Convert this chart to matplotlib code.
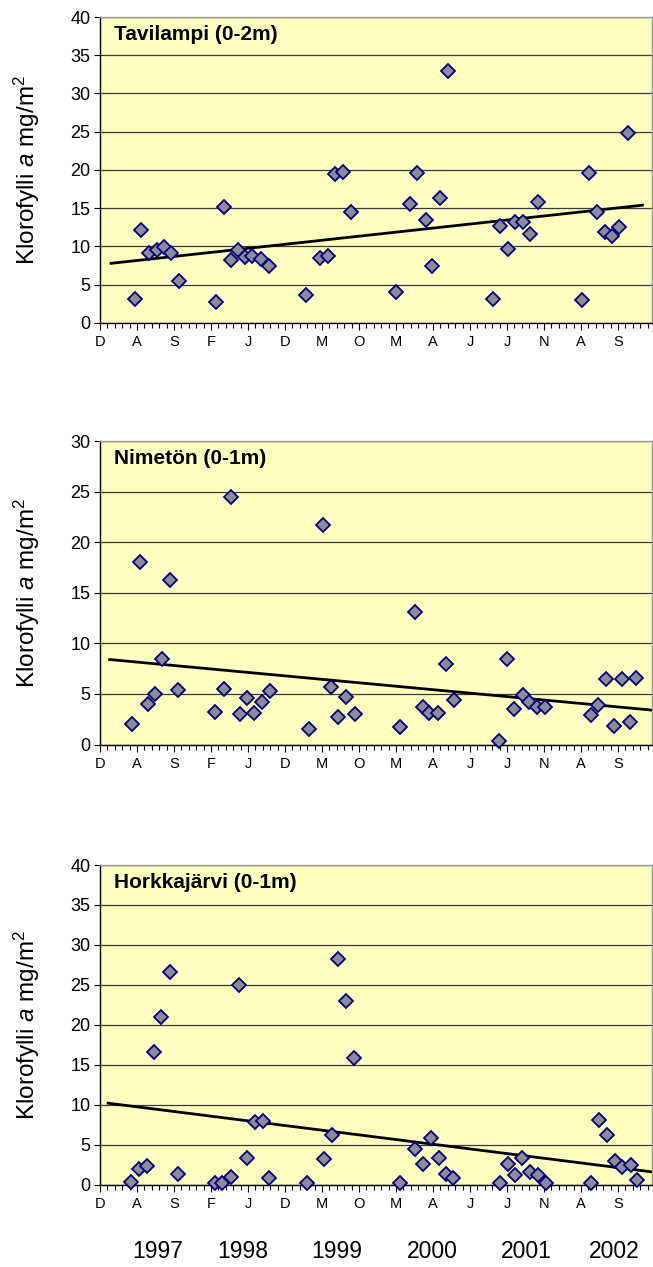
import numpy as np
import matplotlib.pyplot as plt

plt.rcParams['font.family'] = 'Liberation Sans'
plt.rcParams['mathtext.fontset'] = 'custom'
plt.rcParams['mathtext.rm'] = 'Liberation Sans'
plt.rcParams['mathtext.it'] = 'Liberation Sans:italic'

# sampling index (one step per category on the time axis)
month_labels = ['D', 'A', 'S', 'F', 'J', 'D', 'M', 'O', 'M', 'A', 'J', 'J', 'N', 'A', 'S']
year_labels = ['1997', '1998', '1999', '2000', '2001', '2002']

tav_x = [4.7, 5.5, 6.6, 7.7, 8.6, 9.6, 10.7, 15.7, 16.8, 17.7, 18.7, 19.6, 20.6, 21.8, 22.9,
         27.8, 29.7, 30.8, 31.7, 32.8, 33.9, 40.0, 41.9, 42.9, 44.1, 44.9, 46.0, 47.0,
         53.1, 54.0, 55.1, 56.1, 57.1, 58.1, 59.2, 65.2, 66.1, 67.2, 68.2, 69.2, 70.2, 71.3]
tav_y = [3.2, 12.2, 9.2, 9.5, 9.9, 9.1, 5.5, 2.8, 15.2, 8.2, 9.5, 8.6, 8.7, 8.4, 7.4,
         3.7, 8.5, 8.7, 19.5, 19.8, 14.5, 4.1, 15.6, 19.6, 13.5, 7.4, 16.4, 32.9,
         3.2, 12.7, 9.7, 13.2, 13.2, 11.6, 15.8, 3.0, 19.6, 14.5, 11.9, 11.4, 12.5, 24.8]
tav_trend_x = [1.5, 73.3]
tav_trend_y = [7.8, 15.4]

nim_x = [4.3, 5.4, 6.5, 7.4, 8.4, 9.5, 10.6, 15.6, 16.7, 17.7, 18.9, 19.9, 20.8, 21.9, 23.0,
         28.2, 30.1, 31.2, 32.2, 33.2, 34.4, 40.5, 42.6, 43.6, 44.5, 45.7, 46.8, 47.9,
         53.9, 55.0, 56.0, 57.1, 58.0, 59.1, 60.2, 66.4, 67.3, 68.4, 69.5, 70.6, 71.6, 72.5]
nim_y = [2.0, 18.0, 4.0, 5.0, 8.5, 16.3, 5.4, 3.2, 5.5, 24.5, 3.0, 4.6, 3.1, 4.2, 5.3,
         1.5, 21.7, 5.7, 2.7, 4.7, 3.0, 1.7, 13.1, 3.7, 3.1, 3.1, 8.0, 4.4,
         0.3, 8.5, 3.5, 4.9, 4.2, 3.7, 3.7, 2.9, 3.9, 6.5, 1.8, 6.5, 2.2, 6.6]
nim_trend_x = [1.3, 74.6]
nim_trend_y = [8.4, 3.4]

hor_x = [4.2, 5.3, 6.4, 7.3, 8.3, 9.4, 10.5, 15.5, 16.5, 17.7, 18.8, 19.8, 20.9, 22.0, 22.9,
         28.0, 30.3, 31.3, 32.2, 33.2, 34.3, 40.6, 42.6, 43.6, 44.7, 45.8, 46.8, 47.7,
         54.0, 55.1, 56.1, 57.0, 58.1, 59.2, 60.3, 66.3, 67.4, 68.5, 69.6, 70.6, 71.8, 72.6]
hor_y = [0.4, 2.0, 2.3, 16.6, 21.0, 26.6, 1.4, 0.2, 0.2, 1.0, 25.0, 3.4, 7.9, 8.0, 0.8,
         0.2, 3.2, 6.2, 28.2, 23.0, 15.8, 0.2, 4.5, 2.6, 5.9, 3.4, 1.3, 0.8,
         0.2, 2.6, 1.2, 3.3, 1.6, 1.2, 0.2, 0.2, 8.1, 6.2, 3.0, 2.2, 2.5, 0.6]
hor_trend_x = [1.1, 74.6]
hor_trend_y = [10.2, 1.6]

panels = [
    ('Tavilampi (0-2m)', tav_x, tav_y, tav_trend_x, tav_trend_y, 40, [100, 17, 552, 306]),
    ('Nimetön (0-1m)', nim_x, nim_y, nim_trend_x, nim_trend_y, 30, [100, 441, 552, 303.5]),
    ('Horkkajärvi (0-1m)', hor_x, hor_y, hor_trend_x, hor_trend_y, 40, [100, 865, 552, 319.7]),
]

W, H = 653, 1267
fig = plt.figure(figsize=(W / 100, H / 100), dpi=100)

for title, xs, ys, tx, ty, ymax, (l, t, w, h) in panels:
    ax = fig.add_axes([l / W, 1 - (t + h) / H, w / W, h / H])
    ax.set_facecolor('#FFFFC0')
    ax.set_xlim(0, 74.6)
    ax.set_ylim(0, ymax)
    ax.set_yticks(np.arange(0, ymax + 1, 5))
    ax.grid(axis='y', color='#3A3A3A', linewidth=0.9)
    ax.set_axisbelow(True)

    ax.plot(tx, ty, color='black', linewidth=2.0, zorder=2)
    ax.plot(xs, ys, linestyle='none', marker='D', markersize=7.3,
            markerfacecolor='#8C8C98', markeredgecolor='#000080',
            markeredgewidth=1.3, zorder=3, clip_on=False)

    ax.set_xticks(np.arange(0, 75, 5))
    ax.set_xticklabels(month_labels, fontsize=10.5)
    ax.set_xticks(np.arange(0, 75, 1), minor=True)
    ax.tick_params(axis='x', which='major', length=5, width=0.8, pad=4)
    ax.tick_params(axis='x', which='minor', length=3.5, width=0.8)
    ax.tick_params(axis='y', length=4, width=0.8, labelsize=13, pad=3)

    for side in ('top', 'right'):
        ax.spines[side].set_color('#9A9A9A')
        ax.spines[side].set_linewidth(1.0)
    for side in ('left', 'bottom'):
        ax.spines[side].set_color('black')
        ax.spines[side].set_linewidth(1.0)

    ax.set_ylabel('Klorofylli $\\mathit{a}$ mg/m$^2$', fontsize=17.5)
    ax.yaxis.set_label_coords(-0.105, 0.5)

    ax.text(0.025, 0.975, title, transform=ax.transAxes, fontsize=15,
            fontweight='bold', ha='left', va='top')

# year captions under the bottom panel
year_px = [158, 243, 337, 432, 526, 614]
for yr, px in zip(year_labels, year_px):
    fig.text(px / W, 1 - 1252 / H, yr, fontsize=16.5, ha='center', va='center')

fig.savefig('out.png', dpi=100)
